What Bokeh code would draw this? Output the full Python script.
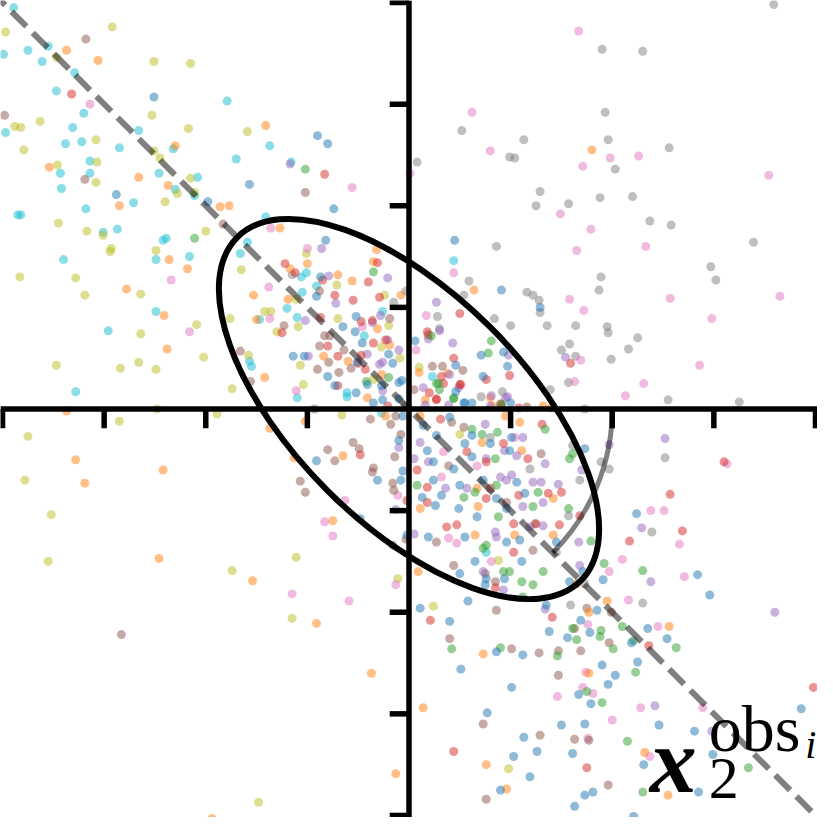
import math
from bokeh.plotting import figure
from bokeh.models import Label
from bokeh.embed import file_html
from bokeh.resources import INLINE

# ---------------- data ----------------
cyan_pts = [(-3.89,3.95),(-3.99,3.49),(-3.75,3.53),(-3.55,3.57),(-3.61,3.42),(-3.29,3.31),(-3.47,3.13),
    (-1.79,3.03),(-3.20,2.91),(-3.97,2.72),(-3.31,2.77),(-2.66,2.74),(-1.37,2.59),(-3.38,2.61),(-3.22,2.63),
    (-2.85,2.57),(-2.32,2.56),(-1.70,2.46),(-1.16,2.43),(-3.14,2.44),(-3.43,2.32),(-3.14,2.32),(-2.46,2.32),
    (-2.30,2.16),(-2.08,2.28),(-2.11,2.10),(-3.42,2.17),(-2.71,2.03),(-3.18,1.97),(-3.85,1.91),(-3.82,1.91),
    (-1.41,1.89),(-3.01,1.74),(-2.87,1.77),(-2.42,1.66),(-2.39,1.68),(-2.49,1.47),(-2.16,1.50),(-3.40,1.47),
    (-1.59,1.64),(-1.66,1.53),(-2.49,0.96),(-2.96,0.77),(-3.28,0.17),(-1.57,0.47),(-1.55,0.42),
    (-1.06,1.30),(-1.01,1.34),(-1.05,1.15),(-0.91,1.21),(-1.20,0.99),(-1.47,0.88),(-1.10,0.90),(-0.26,0.96),
    (-0.44,0.72),(-1.10,0.11),(-0.61,0.12),(-0.27,-0.04),(0.44,1.46),(0.23,0.32),(-0.61,0.16),(0.76,-1.41)]
olive_pts = [(-3.97,3.71),(-2.92,3.76),(-3.47,3.46),(-2.51,3.42),(-2.15,3.40),(-2.53,2.89),(-3.88,2.78),
    (-3.82,2.77),(-3.63,2.83),(-2.17,2.76),(-1.59,2.73),(-3.08,2.65),(-3.79,2.55),(-2.51,2.54),(-2.45,2.47),
    (-3.07,2.43),(-3.46,2.40),(-3.08,2.23),(-2.15,2.27),(-2.28,2.12),(-2.11,2.13),(-2.40,2.04),(-3.45,1.83),
    (-3.17,1.75),(-3.01,1.71),(-2.00,1.75),(-2.93,1.58),(-2.94,1.55),(-2.49,1.56),(-3.83,1.30),(-3.28,1.29),
    (-1.65,1.37),(-2.64,1.13),(-3.19,1.12),(-1.76,0.89),(-2.09,0.83),(-2.64,0.74),(-2.02,0.51),(-3.47,0.43),
    (-2.84,0.40),(-2.66,0.46),(-2.49,0.39),(-1.74,0.20),(-1.58,0.53),(-2.48,0.00),
    (-1.01,1.53),(-0.71,1.22),(-0.24,1.12),(-1.11,1.08),(-1.42,0.96),(-1.36,0.96),(-0.70,0.89),(-1.09,0.81),
    (-1.30,0.76),(-0.20,0.82),(-0.27,0.61),(-0.09,0.50),(-1.07,0.43),(-1.04,0.24),(-0.35,0.29),(0.10,0.41),
    (0.50,-0.25),(0.88,-1.49),(0.24,-1.94),(0.98,-3.54),
    (-2.85,-0.12),(-3.75,-0.27),(-3.78,-0.70),(-3.52,-1.04),(-3.55,-1.50),(-1.74,-1.59),(-1.11,-1.46),
    (-1.15,-2.06),(-1.48,-3.87),(-0.11,-1.67),(-0.66,-0.06),(-1.89,-0.05)]
orange_pts = [(-3.37,3.53),(-3.06,3.43),(-1.41,2.79),(-2.30,2.59),(-3.54,2.38),(-2.66,2.28),(-2.37,2.20),
    (-2.85,2.00),(-1.86,1.99),(-1.77,2.00),(-2.36,1.47),(-2.18,1.38),(-2.78,1.18),(-2.41,0.92),(-2.38,0.59),
    (-1.42,0.31),(-3.37,-0.02),
    (-1.27,1.78),(-1.17,1.38),(-1.00,1.43),(-0.70,1.32),(-0.56,1.26),(-0.35,1.45),(-0.32,1.57),(-1.53,1.12),
    (-0.08,1.12),(-1.19,1.08),(-1.50,0.88),(-0.31,0.79),(-0.19,0.63),(-0.84,0.52),(-0.60,0.47),(-0.27,0.34),
    (-0.41,0.11),(1.80,2.55),(0.64,1.17),(0.10,0.36),(0.38,0.35),(0.16,0.09),(0.80,0.11),(0.82,0.03),
    (1.40,0.01),(1.32,0.03),
    (-3.28,-0.50),(-2.42,-0.60),(-3.19,-0.73),(-2.46,-1.47),(-1.54,-1.69),(-0.91,-2.11),(-0.37,-2.60),
    (-0.13,-3.59),(-1.94,-4.03),(-0.75,-1.10),(-0.65,-0.46),(-0.23,-0.07),(-1.02,-0.12),(-1.37,-0.19),
    (-1.13,-0.48),(0.11,-0.07),(0.95,-0.07),(1.09,-0.13),(0.72,-0.33),(1.11,-0.41),(0.67,-0.78),(1.42,-0.88),
    (0.68,-0.96),(0.11,-0.98),(0.65,-1.24),(1.04,-1.24),(1.42,-1.24),(1.65,-1.72),(0.09,-1.60),(1.95,-1.89),
    (1.77,-2.00),(2.56,-2.14),(0.73,-2.41),(1.77,-2.60),(0.14,-2.94),(0.76,-3.50),(0.96,-3.74),(2.32,-3.38),
    (2.55,-3.80)]
brown_pts = [(-3.18,3.64),(-3.98,2.89),(-3.19,2.26),(-1.02,2.13),(-1.83,1.82),(-1.66,0.57),(-1.56,0.27),
    (-0.93,0.00),
    (-0.88,1.16),(-0.19,0.89),(-1.23,0.82),(-0.83,0.72),(-0.78,0.72),(-0.88,0.62),(-0.64,0.58),(-0.79,0.46),
    (-0.90,0.39),(-0.69,0.36),(-0.57,0.40),(-0.04,0.03),(0.23,0.42),(0.33,0.42),(0.53,0.38),(0.05,0.19),
    (0.91,0.03),(1.16,0.02),
    (-2.83,-2.22),(-1.07,-0.71),(-1.02,-0.82),(-0.80,-0.40),(-0.73,-0.51),(-0.55,-0.33),(-0.49,-0.39),
    (-0.35,-0.58),(-0.36,-0.62),(-0.16,-0.73),(-0.15,-0.80),(-0.14,-0.47),(-0.08,-0.25),(-0.18,-0.15),
    (-0.38,-0.10),(-0.13,-0.07),(-0.03,-1.28),(-0.16,-1.34),(0.54,-0.18),(0.42,-0.13),(1.30,-0.44),
    (0.39,-0.56),(0.96,-0.92),(0.27,-1.31),(1.22,-1.39),(0.44,-1.54),(0.75,-1.62),(0.85,-1.70),(0.86,-1.98),
    (1.99,-2.00),(1.75,-1.96),(1.97,-2.30),(1.63,-2.16),(1.47,-2.38),(1.69,-2.38),(1.47,-2.62),(0.40,-2.26),
    (1.01,-2.36),(1.28,-2.40),(0.73,-3.10),(1.29,-3.21),(1.63,-3.25),(1.77,-3.26),(0.76,-3.84),(1.96,-3.70)]
pink_pts = [(-3.14,3.00),(-0.56,2.18),(-2.34,1.27),(-2.16,0.76),
    (-1.36,1.78),(-1.00,1.58),(-1.38,1.20),(-1.37,0.89),(-0.46,0.81),(-1.11,0.18),
    (1.67,3.72),(0.62,2.92),(0.80,2.54),(1.98,2.47),(2.26,2.49),(0.01,2.32),(1.71,2.39),(3.54,2.30),
    (1.49,1.92),(1.79,1.77),(1.65,1.56),(2.33,1.60),(0.44,1.34),(1.58,1.08),(1.72,0.97),(2.57,1.09),
    (3.65,1.11),(2.98,0.89),(1.69,0.48),(2.86,0.43),(1.63,0.27),(2.31,0.25),(2.13,0.13),(0.17,0.92),
    (0.07,0.58),
    (-1.15,-1.82),(-0.59,-1.89),(-0.13,-1.73),(-0.83,-1.11),(-0.75,-1.25),(-0.63,-0.90),(-0.11,-0.85),
    (1.04,-0.28),(0.34,-0.42),(0.67,-0.56),(0.32,-0.67),(0.39,-1.27),(0.47,-1.32),(0.81,-1.50),(3.13,-0.54),
    (2.38,-1.00),(2.51,-1.00),(2.66,-1.33),(2.10,-1.48),(1.97,-1.60),(2.71,-1.65),(2.16,-1.88),(1.76,-2.12),
    (2.45,-2.14),(1.74,-2.59),(1.71,-2.74),(1.81,-2.80),(1.46,-2.83),(1.76,-3.24),(2.28,-2.94),(2.00,-3.06),
    (2.89,-2.94),(2.37,-3.42)]
gray_pts = [(3.59,3.98),(1.90,3.54),(2.30,3.52),(1.93,2.92),(0.52,2.74),(1.13,2.65),(1.96,2.65),(2.56,2.57),
    (0.99,2.48),(1.04,2.47),(0.08,2.43),(2.03,2.36),(1.29,2.14),(1.25,2.00),(1.57,2.02),(1.88,2.08),
    (2.20,2.09),(2.37,1.85),(2.58,1.81),(3.39,1.64),(0.86,1.60),(0.59,1.26),(0.54,1.12),(1.16,1.15),
    (1.22,1.12),(1.28,1.07),(1.29,0.95),(1.89,1.30),(1.87,1.17),(2.97,1.40),(3.02,1.27),(0.84,0.89),
    (1.00,0.82),(1.36,0.82),(1.64,0.82),(1.95,0.81),(1.96,0.75),(2.25,0.70),(2.16,0.59),(1.50,0.58),
    (1.58,0.64),(1.64,0.52),(1.99,0.49),(1.57,0.26),(2.55,0.09),(3.25,0.07),(1.73,0.00),(1.39,0.19),
    (0.28,0.91),(0.30,0.79),(0.71,0.12),(0.92,0.17),
    (-1.15,1.32),(-0.15,1.05),(-0.03,1.16),
    (0.80,-0.28),(1.19,-0.59),(1.61,-0.36),(1.89,-0.52),(1.97,-0.59),(1.68,-0.70),(1.24,-1.13),(1.57,-1.05),
    (1.45,-1.41),(1.73,-1.72),(1.59,-1.93),(2.52,-0.48),(2.39,-1.21),(2.30,-1.91)]
red_pts = [(-3.32,3.10),(-0.83,2.31),
    (-1.22,1.43),(-1.12,1.34),(-0.85,1.27),(-0.40,1.25),(-0.31,1.44),(-0.73,1.12),(-0.55,1.07),(-0.29,1.10),
    (-0.87,0.90),(-1.25,0.75),(-0.47,0.86),(-0.36,0.87),(-0.80,0.62),(-0.35,0.65),(-0.23,0.68),(-0.70,0.52),
    (-0.47,0.53),(-0.50,0.45),(-0.43,0.39),(-0.70,0.23),(-0.21,0.03),
    (1.59,0.45),(0.50,0.94),(0.18,0.76),(0.19,0.73),(0.44,0.50),(0.99,0.33),(0.32,0.32),(0.76,0.29),
    (0.34,0.25),(0.50,0.24),(0.20,0.16),(0.27,0.09),(1.08,0.01),(0.27,0.10),(0.51,0.24),(0.90,0.05),
    (-0.48,-0.45),(-0.02,-0.90),(0.31,-0.10),(1.31,-0.15),(0.57,-0.42),(0.93,-0.34),(1.17,-0.49),(0.76,-0.52),
    (0.08,-0.60),(0.80,-0.78),(0.18,-0.77),(0.18,-0.92),(0.76,-0.88),(1.08,-0.85),(1.50,-0.82),(1.37,-0.83),
    (1.68,-1.05),(0.47,-1.14),(0.37,-1.16),(1.03,-1.13),(1.03,-1.41),(1.25,-1.13),(1.48,-1.14),(0.85,-1.76),
    (3.10,-0.52),(2.57,-0.84),(2.69,-1.20),(2.17,-1.30),(1.41,-2.05),(2.36,-2.33),(0.21,-2.08),(0.44,-3.37),
    (1.75,-3.53),(3.98,-2.74)]
green_pts = [(-1.02,2.36),(-2.11,1.68),(-0.35,1.35),(-0.42,0.27),(-0.20,0.31),
    (0.22,0.72),(0.81,0.67),(0.78,0.55),(0.29,0.25),(0.30,0.19),(0.44,0.10),(0.91,0.05),(0.27,0.25),(0.44,0.11),
    (0.72,-0.25),(0.87,-0.23),(1.34,-0.20),(0.62,-0.20),(1.58,-0.49),(1.61,-0.44),(0.85,-0.49),(0.86,-0.75),
    (0.65,-0.82),(0.08,-0.75),(0.54,-0.87),(1.27,-0.82),(1.22,-0.96),(1.57,-0.98),(0.88,-1.06),(1.79,-1.30),
    (0.76,-1.34),(0.73,-1.37),(0.93,-1.60),(1.11,-1.70),(1.22,-1.73),(0.99,-1.60),(1.32,-1.60),(1.12,-1.85),
    (1.92,-1.52),(2.30,-1.59),(2.10,-2.14),(2.63,-2.35),(2.21,-2.28),(2.23,-2.59),(1.89,-2.18),(1.88,-2.24),
    (2.01,-2.36),(1.61,-2.16),(1.65,-2.27),(1.46,-2.43),(1.75,-2.78),(1.90,-2.89),(0.42,-2.36),(0.90,-2.35),
    (2.15,-3.27),(3.34,-3.53),(2.30,-3.77)]
blue_pts = [(-2.51,3.07),(-0.90,2.69),(-0.80,2.61),(-1.57,2.21),(-2.88,2.11),(-1.98,2.04),(-0.74,1.97),
    (-0.82,1.66),(-0.87,1.30),(-0.91,1.11),(-0.52,0.91),(-0.65,0.81),(-0.53,0.76),(-0.46,0.65),(-1.14,0.52),
    (-1.03,0.52),(-0.20,0.54),(-0.51,0.46),(-0.16,0.45),(-0.80,0.32),(-0.73,0.23),(-0.41,0.24),(-0.27,0.23),
    (-0.10,0.26),(-0.07,0.28),(-0.52,0.16),(-0.35,0.06),(-0.26,0.09),(-0.10,0.10),
    (0.45,1.66),(0.91,1.17),(1.29,1.00),(0.06,0.67),(0.71,0.53),(0.93,0.56),(0.97,0.42),(0.46,0.43),
    (0.73,0.32),(0.46,0.17),(0.55,0.06),(0.62,0.06),(1.00,0.06),(0.54,0.06),
    (-0.91,-0.51),(-0.31,-0.70),(-0.08,-0.70),(-0.06,-0.61),(-0.10,-0.31),(-0.06,-0.07),(-0.48,-1.08),
    (-0.02,-1.24),
    (0.40,-0.08),(0.14,-0.16),(0.62,-0.26),(1.01,-0.28),(0.27,-0.26),(0.55,-0.34),(0.80,-0.34),(0.99,-0.41),
    (1.73,-0.39),(0.44,-0.59),(0.24,-0.52),(0.62,-0.47),(0.18,-0.41),(1.06,-0.72),(0.73,-0.70),(0.50,-0.75),
    (0.24,-0.70),(0.13,-0.87),(0.32,-0.85),(0.86,-0.88),(1.14,-0.83),(0.96,-0.98),(0.49,-0.98),(0.26,-0.95),
    (0.67,-1.06),(0.19,-1.26),(0.55,-1.26),(0.96,-1.31),(1.09,-1.29),(1.45,-1.31),(0.50,-1.62),(0.65,-1.50),
    (0.76,-1.67),(0.75,-1.73),(0.94,-1.67),(1.11,-1.50),(1.58,-1.70),(1.71,-1.60),(0.58,-1.89),(1.35,-1.93),
    (2.24,-1.03),(2.84,-1.63),(2.96,-1.83),(1.91,-1.68),(1.85,-1.98),(2.35,-2.16),(2.54,-2.26),(2.19,-2.30),
    (2.25,-2.49),(1.69,-2.08),(1.56,-2.25),(1.78,-2.20),(1.38,-2.19),(1.90,-2.52),(2.03,-2.62),(1.96,-2.71),
    (1.67,-2.81),(1.79,-2.90),(0.11,-1.96),(0.40,-2.09),(0.51,-2.56),(0.86,-2.39),(1.12,-2.42),(1.01,-2.74),
    (0.77,-2.99),(1.50,-3.11),(1.73,-3.10),(1.13,-3.23),(1.03,-3.42),(1.26,-3.37),(1.61,-3.39),(1.19,-3.62),
    (0.90,-3.75),(1.73,-3.80),(1.81,-3.77),(1.63,-3.91),(2.21,-4.01),(2.46,-3.11),(2.81,-3.17),(3.86,-2.95),
    (2.31,-3.50),(2.99,-3.40),(2.85,-3.77)]
purple_pts = [(-1.17,2.41),
    (-0.86,1.58),(-0.79,1.31),(-0.21,1.29),(-0.72,1.04),(-1.02,0.87),(-0.28,0.92),(-0.36,0.85),(-0.21,0.68),
    (-0.41,0.54),(-0.10,0.58),(-0.99,0.52),(-0.29,0.44),(-0.26,0.46),(-0.26,0.18),
    (1.54,0.51),(0.27,1.05),(0.30,0.77),(0.19,0.69),(0.43,0.65),(0.98,0.53),(0.40,0.34),(0.49,0.21),
    (0.14,0.21),(0.16,0.04),(0.97,0.12),(0.81,0.13),(0.39,0.04),(0.80,0.03),(0.95,0.11),
    (-0.10,-0.38),(-0.13,-0.99),(0.75,-0.15),(1.12,-0.28),(0.11,-0.33),(0.94,-0.41),(1.06,-0.46),(1.34,-0.54),
    (1.70,-0.60),(1.97,-0.35),(0.76,-0.49),(0.19,-0.52),(0.05,-0.49),(0.90,-0.67),(0.96,-0.70),(1.01,-0.65),
    (0.57,-0.78),(0.36,-0.78),(1.22,-0.72),(1.30,-0.72),(1.47,-0.74),(1.32,-0.92),(1.12,-0.96),(0.05,-1.23),
    (0.85,-1.21),(0.86,-1.26),(1.19,-1.16),(1.32,-1.15),(1.67,-1.31),(0.73,-1.60),(0.93,-1.78),(1.68,-1.54),
    (1.34,-1.97),(2.52,-0.29),(2.29,-1.17),(2.38,-1.70),(3.60,-2.00),(2.42,-2.92),(2.98,-3.17)]

series = [
    ("#17becf", cyan_pts), ("#bcbd22", olive_pts), ("#7f7f7f", gray_pts), ("#e377c2", pink_pts),
    ("#8c564b", brown_pts), ("#ff7f0e", orange_pts), ("#9467bd", purple_pts), ("#d62728", red_pts),
    ("#2ca02c", green_pts), ("#1f77b4", blue_pts),
]

ticks = [-4, -3, -2, -1, 1, 2, 3, 4]
lim = 4.02
tick_len = 0.19          # tick length in data units (~19 px)
ell_width, ell_height, ell_angle = 4.78, 2.27, -math.pi / 4
arc_radius, arc_start, arc_end = 2.0, -math.pi / 4, 0.0

# ---------------- figure ----------------
p = figure(width=817, height=817, x_range=(-lim, lim), y_range=(-lim, lim),
           output_backend="svg", toolbar_location=None, min_border=0,
           outline_line_color=None, background_fill_color="white")
p.axis.visible = False
p.grid.visible = False

for color, pts in series:
    p.scatter([q[0] for q in pts], [q[1] for q in pts], size=9,
              fill_color=color, fill_alpha=0.5, line_color=None)

# ellipse
p.ellipse(x=[0], y=[0], width=[ell_width], height=[ell_height], angle=[ell_angle],
          fill_color=None, line_color="black", line_width=6)

# centred spines with ticks
p.segment(x0=[-lim], y0=[0], x1=[lim], y1=[0], line_color="black", line_width=5.5)
p.segment(x0=[0], y0=[-lim], x1=[0], y1=[lim], line_color="black", line_width=5.5)
p.segment(x0=ticks, y0=[0] * len(ticks), x1=ticks, y1=[-tick_len] * len(ticks),
          line_color="black", line_width=5.5)
p.segment(x0=[0] * len(ticks), y0=ticks, x1=[-tick_len] * len(ticks), y1=ticks,
          line_color="black", line_width=5.5)

# dashed diagonal y = -x
diag_x = [-lim - 0.1, lim + 0.1]
p.line(diag_x, [-v for v in diag_x], line_color="black", line_alpha=0.5,
       line_width=6, line_dash="21 9")

# arc of radius 2
p.arc(x=[0], y=[0], radius=[arc_radius], start_angle=[arc_start], end_angle=[arc_end],
      line_color="black", line_alpha=0.5, line_width=5)

# label  x_2^{obs_i}
font = "Liberation Serif"
p.add_layout(Label(x=2.37, y=-3.45, text="x", text_font=font, text_font_style="bold italic",
                   text_font_size="94px", text_baseline="alphabetic", text_color="black"))
p.add_layout(Label(x=2.95, y=-3.64, text="2", text_font=font, text_font_size="60px",
                   text_baseline="alphabetic", text_color="black"))
p.add_layout(Label(x=2.95, y=-3.14, text="obs", text_font=font, text_font_size="66px",
                   text_baseline="alphabetic", text_color="black"))
p.add_layout(Label(x=3.90, y=-3.30, text="i", text_font=font, text_font_style="italic",
                   text_font_size="40px", text_baseline="alphabetic", text_color="black"))

open("out.html", "w").write(file_html(p, INLINE))
